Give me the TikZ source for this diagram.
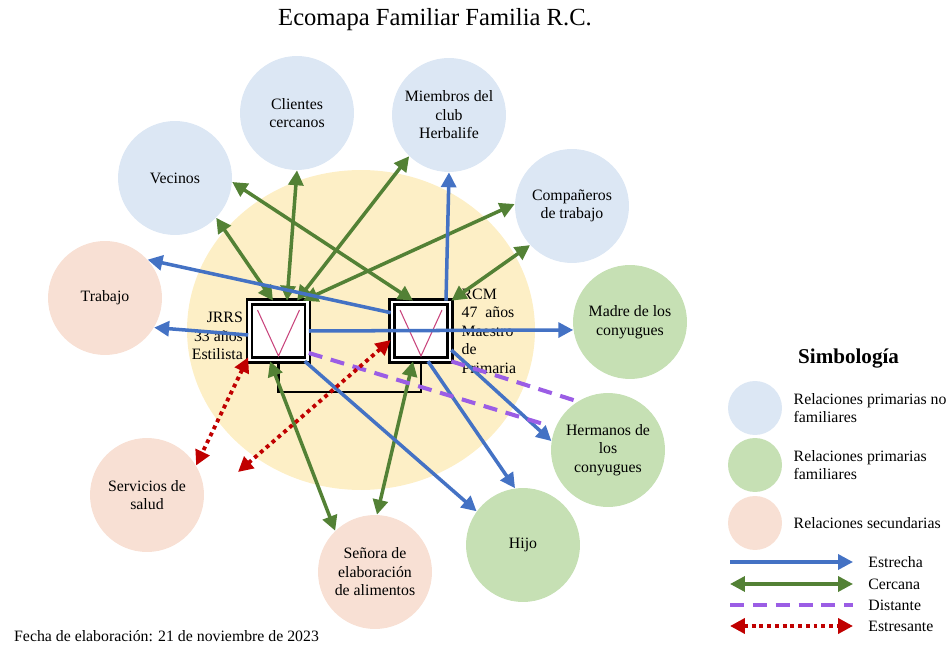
\documentclass[tikz,border=0pt]{standalone}
\usepackage{fontspec}
\setmainfont{Liberation Serif}
\usepackage{tikz}
\usetikzlibrary{arrows.meta,positioning}
\definecolor{azulCirculo}{HTML}{DCE7F4}
\definecolor{verdeCirculo}{HTML}{C6E0B4}
\definecolor{rosaCirculo}{HTML}{F8E0D4}
\definecolor{amarilloFondo}{HTML}{FDEFC6}
\definecolor{azulEstrecha}{HTML}{4472C4}
\definecolor{verdeCercana}{HTML}{538135}
\definecolor{moradoDistante}{HTML}{9B5DE5}
\definecolor{rojoEstres}{HTML}{C00000}
\definecolor{rosaV}{HTML}{C9457D}

\begin{document}
\begin{tikzpicture}[x=0.02cm,y=-0.02cm,font=\fontsize{9}{10.5}\selectfont,
  circAzul/.style={circle,fill=azulCirculo,minimum size=2.28cm,inner sep=0pt,align=center},
  circVerde/.style={circle,fill=verdeCirculo,minimum size=2.28cm,inner sep=0pt,align=center},
  circRosa/.style={circle,fill=rosaCirculo,minimum size=2.28cm,inner sep=0pt,align=center},
  caja/.style={draw,double=white,double distance=0.05cm,line width=1.5pt,fill=white,minimum size=1.16cm,inner sep=0pt},
  lineaV/.style={rosaV,line width=0.6pt},
  union/.style={line width=1.3pt},
  estrecha/.style={azulEstrecha,line width=2pt,-{Triangle[length=8.5pt,width=8.5pt]}},
  cercana/.style={verdeCercana,line width=2pt,{Triangle[length=8.5pt,width=8.5pt]}-{Triangle[length=8.5pt,width=8.5pt]}},
  distante/.style={moradoDistante,line width=2.3pt,dash pattern=on 8pt off 5pt},
  estresante/.style={rojoEstres,line width=2.2pt,dash pattern=on 2.2pt off 2.2pt,{Triangle[length=8.5pt,width=8.5pt]}-{Triangle[length=8.5pt,width=8.5pt]}},
  leyTexto/.style={align=left,inner sep=0pt}]
\useasboundingbox (0,0) rectangle (949,651);

\node (titulo) at (435,20) {\fontsize{14}{16}\selectfont Ecomapa Familiar Familia R.C.};

\fill[amarilloFondo] (361,330) ellipse [x radius=3.48cm, y radius=3.2cm];

\node[circAzul] (clientes) at (297,113) {Clientes\\cercanos};
\node[circAzul] (miembros) at (449,115) {Miembros del\\club\\Herbalife};
\node[circAzul] (vecinos) at (175,178) {Vecinos};
\node[circAzul] (companeros) at (572,206) {Compañeros\\de trabajo};
\node[circRosa] (trabajo) at (105,298) {Trabajo};
\node[circVerde] (madre) at (630,322) {Madre de los\\conyugues};
\node[circVerde] (hermanos) at (608,450) {Hermanos de\\los\\conyugues};
\node[circVerde] (hijo) at (523,545) {Hijo};
\node[circRosa] (senora) at (375,572) {Señora de\\elaboración\\de alimentos};
\node[circRosa] (salud) at (147,495) {Servicios de\\salud};

\node[caja] (jrrs) at (278.5,331) {};
\node[caja] (rcm) at (421,331) {};
\foreach \n in {jrrs,rcm}
  \draw[lineaV] (\n.center) ++(-21,-21) -- ++(21,46) -- ++(21,-46);
\draw[union] (jrrs.south) -- ++(0,31) -| (rcm.south);

\node[align=right,inner sep=0pt,left=0.1cm of jrrs,yshift=-0.1cm] (jrrsDatos) {JRRS\\33 años\\Estilista};
\node[align=left,inner sep=0pt,right=0.2cm of rcm] (rcmDatos) {RCM\\47\ \ años\\Maestro\\de\\Primaria};

\draw[cercana] ([xshift=-0.11cm]jrrs.north) -- (vecinos.-44);
\draw[cercana] ([xshift=0.17cm]jrrs.north) -- (clientes.south);
\draw[cercana] ([xshift=0.37cm]jrrs.north) -- (miembros.-134);
\draw[cercana] ([xshift=0.49cm]jrrs.north) -- (companeros.178);
\draw[cercana] ([xshift=-0.16cm]rcm.north) -- (vecinos.-4);
\draw[cercana] (rcm.north east) -- (companeros.-137);
\draw[cercana] ([xshift=-0.16cm]rcm.south) -- (senora.88);
\draw[cercana] ([xshift=-0.17cm]jrrs.south) -- (senora.134);

\draw[estrecha] ([yshift=-0.24cm]rcm.north west) -- (trabajo.42);
\draw[estrecha] ([yshift=-0.08cm]jrrs.west) -- (trabajo.-31);
\draw[estrecha] (jrrs.east) -- (madre.188);
\draw[estrecha] ([xshift=0.5cm]rcm.north) -- (miembros.south);
\draw[estrecha] ([xshift=-0.08cm]jrrs.south east) -- (hijo.144);
\draw[estrecha] ([xshift=0.14cm]rcm.south) -- (hijo.98);
\draw[estrecha] ([yshift=-0.38cm]rcm.east) -- (hermanos.171);

\draw[distante,shorten >=0.24cm] ([yshift=-0.44cm]jrrs.east) -- (hermanos.157);
\draw[distante] (rcm.south east) -- (hermanos.122);

\coordinate (estresLibre) at (238,472);
\draw[estresante] ([yshift=0.08cm]jrrs.south west) -- (salud.31);
\draw[estresante] ([yshift=-0.18cm]rcm.west) -- (estresLibre);

\node[anchor=west,font=\bfseries\fontsize{12}{14}\selectfont] (simbologia) at (792,359) {Simbología};
\node[circAzul,minimum size=1.08cm] (leyAzul) at (755,408) {};
\node[circVerde,minimum size=1.08cm] (leyVerde) at (755,465) {};
\node[circRosa,minimum size=1.08cm] (leyRosa) at (755,523) {};
\node[leyTexto,right=0.22cm of leyAzul] (txtAzul) {Relaciones primarias no\\familiares};
\node[leyTexto,right=0.22cm of leyVerde] (txtVerde) {Relaciones primarias\\familiares};
\node[leyTexto,right=0.22cm of leyRosa] (txtRosa) {Relaciones secundarias};
\foreach \y/\estilo/\txt/\n in {562/estrecha/Estrecha/1,584/cercana/Cercana/2,605/distante/Distante/3,626/estresante/Estresante/4}{
  \coordinate (leyIni\n) at (730,\y);
  \node[leyTexto,anchor=west] (leyTxt\n) at (868,\y) {\txt};
  \draw[\estilo] (leyIni\n) -- ([xshift=-0.3cm]leyTxt\n.west);
}

\node[anchor=west] (fecha) at (8,636) {Fecha de elaboración: 21 de noviembre de 2023};
\end{tikzpicture}
\end{document}
